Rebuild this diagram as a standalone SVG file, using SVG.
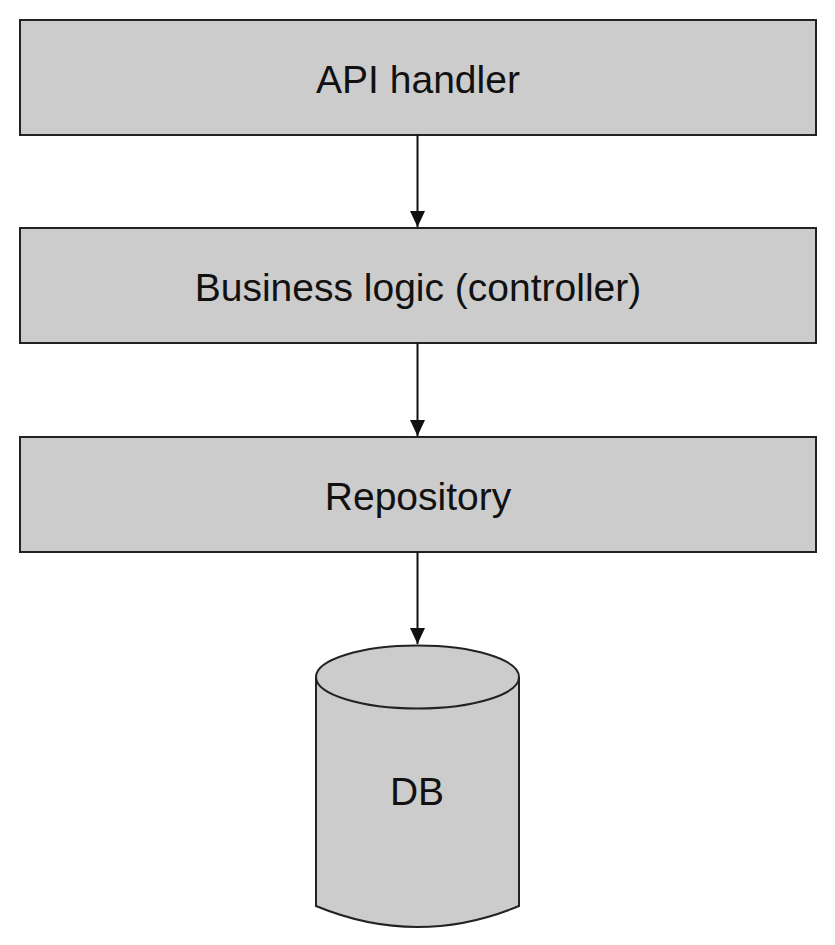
<svg xmlns="http://www.w3.org/2000/svg" width="835" height="945" viewBox="0 0 835 945">
<style>
.box{fill:#cccccc;stroke:#222;stroke-width:2}
.lbl{font-family:"Liberation Sans",Arial,sans-serif;font-size:39px;fill:#111;text-anchor:middle}
.edge{stroke:#111;stroke-width:2;fill:none}
</style>
<defs>
<marker id="ah" markerWidth="17" markerHeight="15" refX="16" refY="7.5" orient="auto" markerUnits="userSpaceOnUse">
<path d="M0,0 L16,7.5 L0,15 Z" fill="#111"/>
</marker>
</defs>
<rect width="835" height="945" fill="#fff"/>
<g id="api">
<rect class="box" x="20" y="20" width="796" height="115"/>
<text class="lbl" x="418" y="93">API handler</text>
</g>
<g id="business">
<rect class="box" x="20" y="228" width="796" height="115"/>
<text class="lbl" x="418" y="301">Business logic (controller)</text>
</g>
<g id="repository">
<rect class="box" x="20" y="437" width="796" height="115"/>
<text class="lbl" x="418" y="510">Repository</text>
</g>
<g id="db">
<path class="box" d="M316,677 L316,906 Q417.5,948 519,906 L519,677"/>
<ellipse class="box" cx="417.5" cy="677" rx="101.5" ry="31.5"/>
<text class="lbl" x="417" y="805">DB</text>
</g>
<g id="connectors">
<line class="edge" x1="417.5" y1="135" x2="417.5" y2="227" marker-end="url(#ah)"/>
<line class="edge" x1="417.5" y1="343" x2="417.5" y2="436" marker-end="url(#ah)"/>
<line class="edge" x1="417.5" y1="552" x2="417.5" y2="644" marker-end="url(#ah)"/>
</g>
</svg>
